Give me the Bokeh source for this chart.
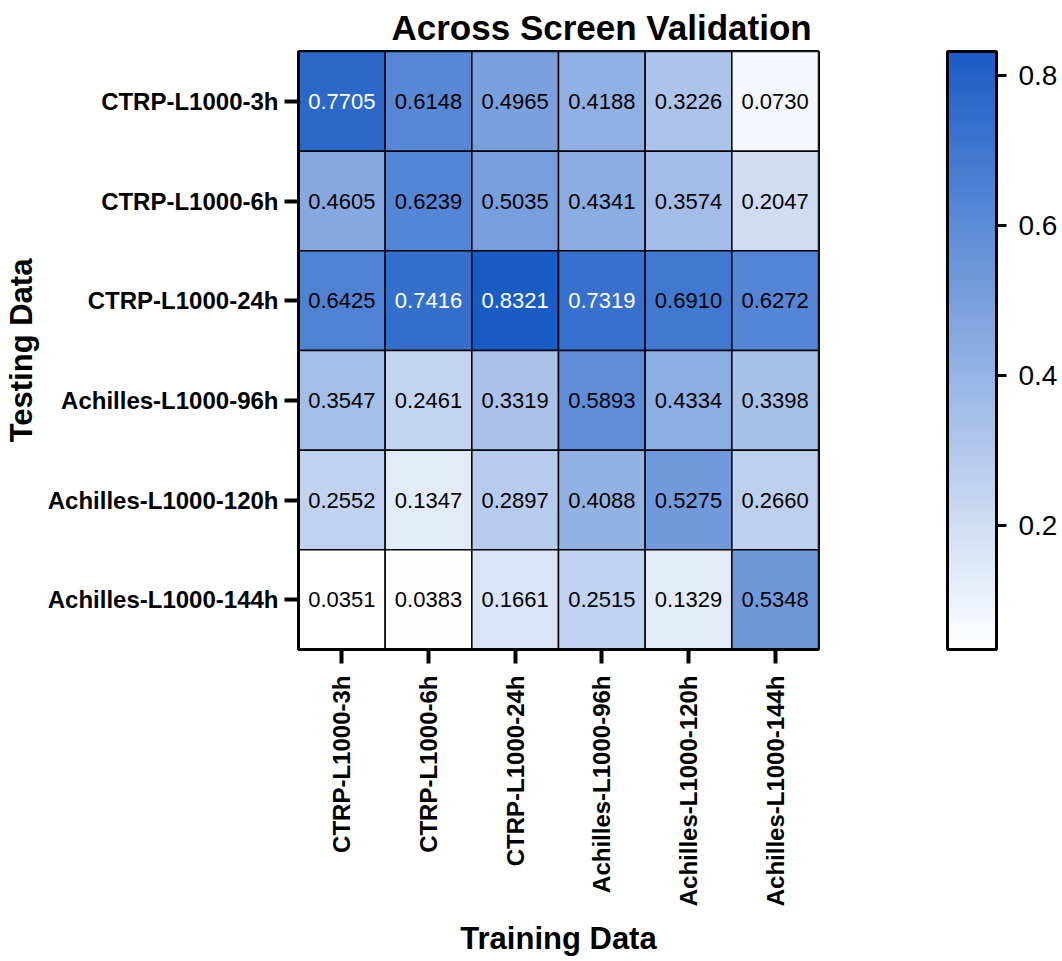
from bokeh.plotting import figure
from bokeh.models import ColumnDataSource, LinearColorMapper, ColorBar, FixedTicker, Title
from bokeh.core.properties import value
from bokeh.embed import file_html
from bokeh.resources import INLINE

training = ["CTRP-L1000-3h", "CTRP-L1000-6h", "CTRP-L1000-24h",
            "Achilles-L1000-96h", "Achilles-L1000-120h", "Achilles-L1000-144h"]
testing = ["CTRP-L1000-3h", "CTRP-L1000-6h", "CTRP-L1000-24h",
           "Achilles-L1000-96h", "Achilles-L1000-120h", "Achilles-L1000-144h"]

row_3h = [0.7705, 0.6148, 0.4965, 0.4188, 0.3226, 0.0730]
row_6h = [0.4605, 0.6239, 0.5035, 0.4341, 0.3574, 0.2047]
row_24h = [0.6425, 0.7416, 0.8321, 0.7319, 0.6910, 0.6272]
row_96h = [0.3547, 0.2461, 0.3319, 0.5893, 0.4334, 0.3398]
row_120h = [0.2552, 0.1347, 0.2897, 0.4088, 0.5275, 0.2660]
row_144h = [0.0351, 0.0383, 0.1661, 0.2515, 0.1329, 0.5348]
rows = [row_3h, row_6h, row_24h, row_96h, row_120h, row_144h]

colorbar_ticks = [0.2, 0.4, 0.6, 0.8]

FONT = "Liberation Sans"

# palette: white -> blue
c0 = (255, 255, 255)
c1 = (26, 92, 198)
palette = []
for i in range(256):
    t = i / 255
    r = round(c0[0] + (c1[0] - c0[0]) * t)
    g = round(c0[1] + (c1[1] - c0[1]) * t)
    b = round(c0[2] + (c1[2] - c0[2]) * t)
    palette.append("#%02x%02x%02x" % (r, g, b))

all_vals = [v for r in rows for v in r]
mapper = LinearColorMapper(palette=palette, low=min(all_vals), high=max(all_vals))

xs, ys, vals, labels, tcolors = [], [], [], [], []
for ti, r in enumerate(rows):
    for tj, v in enumerate(r):
        xs.append(training[tj])
        ys.append(testing[ti])
        vals.append(v)
        labels.append("%.4f" % v)
        tcolors.append("white" if v > 0.7 else "black")

src = ColumnDataSource(dict(x=xs, y=ys, v=vals, label=labels, tc=tcolors))

p = figure(x_range=training, y_range=list(reversed(testing)),
           width=1046, height=945,
           frame_width=520, frame_height=598,
           min_border_left=297, min_border_top=48, min_border_right=10, min_border_bottom=2,
           output_backend="svg", toolbar_location=None,
           x_axis_label="Training Data", y_axis_label="Testing Data")

p.rect(x="x", y="y", width=1, height=1, source=src,
       fill_color={"field": "v", "transform": mapper},
       line_color="black", line_width=1.5)
p.text(x="x", y="y", text="label", source=src, text_color="tc",
       text_align="center", text_baseline="middle",
       text_font=value(FONT), text_font_size="22px")

p.title = Title(text="Across Screen Validation", align="left", offset=93,
                text_font=FONT, text_font_size="35px", text_font_style="bold",
                text_color="black", standoff=10)

p.outline_line_color = "black"
p.outline_line_width = 3
p.grid.grid_line_color = None
p.background_fill_color = "white"
p.border_fill_color = "white"

for ax in (p.xaxis[0], p.yaxis[0]):
    ax.axis_line_width = 3
    ax.axis_line_color = "black"
    ax.major_tick_line_width = 4
    ax.major_tick_line_color = "black"
    ax.major_tick_out = 14
    ax.major_tick_in = 0
    ax.minor_tick_line_color = None
    ax.major_label_text_font = FONT
    ax.major_label_text_font_size = "24px"
    ax.major_label_text_font_style = "bold"
    ax.major_label_text_color = "black"
    ax.axis_label_text_font = FONT
    ax.axis_label_text_font_size = "31px"
    ax.axis_label_text_font_style = "bold"
    ax.axis_label_text_color = "black"

p.xaxis.major_label_orientation = 1.5708
p.xaxis.major_label_standoff = 12
p.yaxis.major_label_standoff = 6
p.xaxis.axis_label_standoff = 12
p.yaxis.axis_label_standoff = 6

cb = ColorBar(color_mapper=mapper, width=49, height=598, padding=0, margin=0,
              location=(129, 0),
              ticker=FixedTicker(ticks=colorbar_ticks),
              bar_line_color="black", bar_line_width=3,
              major_tick_line_color="black", major_tick_line_width=3,
              major_tick_in=0, major_tick_out=10,
              minor_tick_line_color=None,
              major_label_text_font=FONT, major_label_text_font_size="28px",
              major_label_text_color="black", label_standoff=12,
              background_fill_color=None, border_line_color=None)
p.add_layout(cb, "right")

open("out.html", "w").write(file_html(p, INLINE))
